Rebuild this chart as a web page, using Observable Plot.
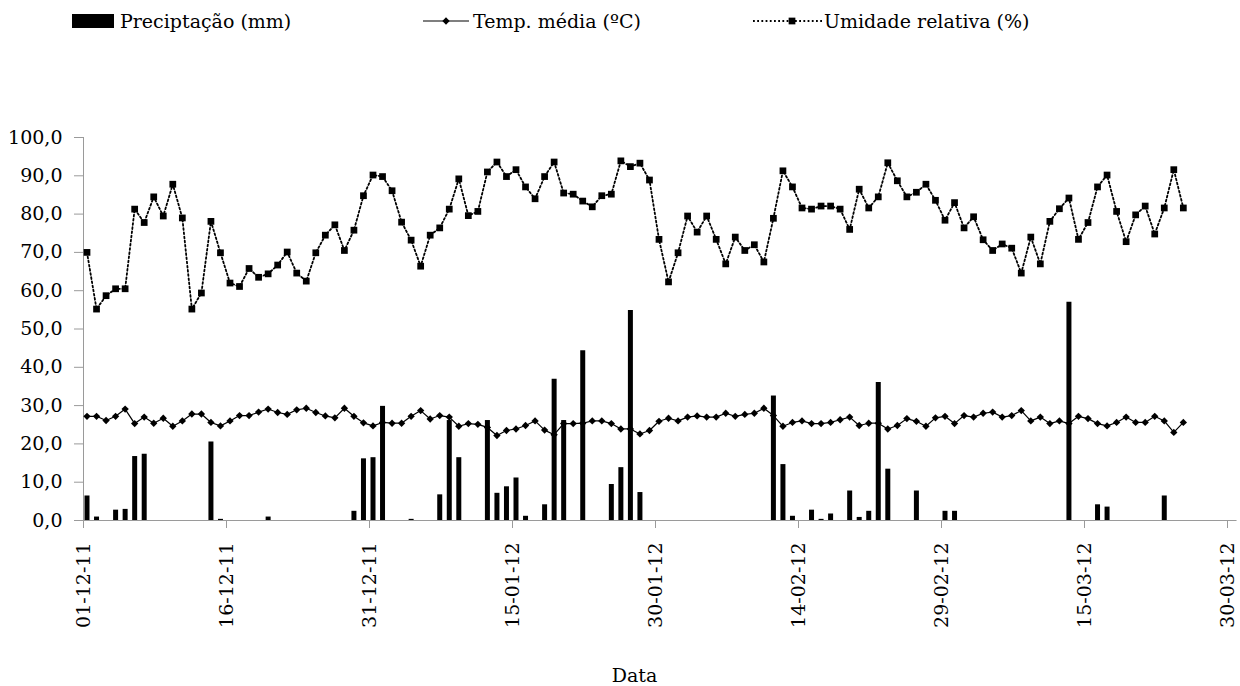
<!DOCTYPE html>
<html>
<head>
<meta charset="utf-8">
<script src="https://cdn.jsdelivr.net/npm/d3@7"></script>
<script src="https://cdn.jsdelivr.net/npm/@observablehq/plot@0.6"></script>
<style>
  html, body { margin: 0; padding: 0; background: #fff; }
  body { width: 1240px; height: 686px; overflow: hidden; font-family: "DejaVu Serif", "Liberation Serif", serif; }
  #legend { display: block; }
  #chart svg { display: block; }
  svg, svg text { font-family: "DejaVu Serif", "Liberation Serif", serif !important; }
</style>
</head>
<body>
<svg id="legend" width="1240" height="40"></svg>
<div id="chart"></div>
<script>
// ---- data ----
const seriesNames = ["Preciptação (mm)", "Temp. média (ºC)", "Umidade relativa (%)"];
const xLabel = "Data";
const firstDay = "2011-12-01";
const tickDates = ["2011-12-01","2011-12-16","2011-12-31","2012-01-15","2012-01-30","2012-02-14","2012-02-29","2012-03-15","2012-03-30"];
const yTicks = [0,10,20,30,40,50,60,70,80,90,100];

const precipitation = [
  6.4,0.9,0,2.7,2.9,16.7,17.3,0,0,0,
  0,0,0,20.5,0.3,0,0,0,0,0.9,
  0,0,0,0,0,0,0,0,2.4,16.1,
  16.4,29.8,0,0,0.3,0,0,6.7,26.1,16.4,
  0,0,26.1,7.1,8.8,11.1,1.1,0,4.1,36.9,
  26.1,0,44.3,0,0,9.4,13.8,54.8,7.3,0,
  0,0,0,0,0,0,0,0,0,0,
  0,0,32.5,14.6,1.1,0,2.7,0.3,1.7,0,
  7.7,0.8,2.4,36.0,13.4,0,0,7.7,0,0,
  2.4,2.4,0,0,0,0,0,0,0,0,
  0,0,0,57.0,0,0,4.1,3.5,0,0,
  0,0,0,6.4,0,0
];
const temperature = [
  27.2,27.2,26.1,27.2,29.1,25.3,27.0,25.4,26.7,24.6,
  26.0,27.8,27.8,25.6,24.7,26.0,27.4,27.4,28.3,29.1,
  28.2,27.7,28.9,29.3,28.2,27.3,26.8,29.3,27.2,25.5,
  24.7,25.6,25.4,25.4,27.2,28.7,26.5,27.4,27.0,24.6,
  25.3,25.1,24.3,22.2,23.5,23.9,24.8,26.0,23.6,22.4,
  25.3,25.3,25.4,26.0,26.0,25.3,23.9,23.9,22.6,23.5,
  25.9,26.7,26.0,27.0,27.3,27.0,27.0,28.0,27.2,27.7,
  28.0,29.3,27.4,24.6,25.6,26.0,25.3,25.3,25.6,26.3,
  27.0,24.8,25.4,25.4,23.9,24.8,26.6,25.9,24.6,26.8,
  27.2,25.3,27.4,27.0,28.0,28.3,27.0,27.4,28.7,26.0,
  27.0,25.3,26.0,25.3,27.2,26.6,25.3,24.7,25.6,27.0,
  25.6,25.6,27.2,26.0,23.0,25.6
];
const humidity = [
  70.0,55.2,58.7,60.5,60.5,81.3,77.8,84.5,79.5,87.8,
  79.0,55.2,59.4,78.1,69.9,62.0,61.1,65.8,63.5,64.4,
  66.7,70.1,64.6,62.5,69.9,74.5,77.2,70.5,75.8,84.8,
  90.2,89.8,86.1,77.9,73.2,66.4,74.5,76.4,81.3,89.2,
  79.6,80.7,91.0,93.6,89.8,91.6,87.1,84.0,89.8,93.6,
  85.5,85.2,83.4,81.9,84.8,85.2,93.9,92.4,93.3,88.9,
  73.4,62.3,69.9,79.5,75.3,79.5,73.4,67.0,74.0,70.5,
  72.0,67.5,78.9,91.3,87.1,81.6,81.3,82.1,82.1,81.3,
  76.0,86.5,81.6,84.5,93.4,88.7,84.5,85.7,87.8,83.6,
  78.4,83.0,76.4,79.3,73.3,70.5,72.2,71.1,64.6,74.0,
  67.0,78.1,81.4,84.2,73.4,77.8,87.1,90.2,80.7,72.8,
  79.8,82.1,74.8,81.6,91.6,81.6
];

// ---- build table ----
const start = d3.utcParse("%Y-%m-%d")(firstDay);
const rows = humidity.map((h, i) => ({
  date: d3.utcDay.offset(start, i),
  p: precipitation[i],
  t: temperature[i],
  h
}));
const ticks = tickDates.map(d3.utcParse("%Y-%m-%d"));
const axisEnd = d3.utcDay.offset(ticks[ticks.length - 1], 1);

const FONT = '"DejaVu Serif", "Liberation Serif", serif';
const FS = 19;
const AXIS = "#9a9a9a";
const DX = 3.5;

const chart = Plot.plot({
  width: 1240,
  height: 646,
  marginTop: 97,
  marginBottom: 166,
  marginLeft: 83,
  marginRight: 13,
  style: { fontFamily: FONT, fontSize: FS + "px", color: "#000", background: "#fff", overflow: "visible" },
  x: { type: "utc", domain: [ticks[0], ticks[ticks.length - 1]], axis: null },
  y: { domain: [0, 100], axis: null },
  marks: [
    Plot.ruleX([ticks[0]], { stroke: AXIS, strokeWidth: 1 }),
    Plot.ruleY([0], { x1: ticks[0], x2: axisEnd, stroke: AXIS, strokeWidth: 1 }),
    Plot.axisY({
      ticks: yTicks,
      tickFormat: d => d.toFixed(1).replace(".", ","),
      tickSize: 9,
      tickPadding: 12,
      stroke: AXIS,
      label: null,
      fontSize: FS
    }),
    Plot.axisX({
      ticks: ticks,
      tickFormat: d3.utcFormat("%d-%m-%y"),
      tickRotate: -90,
      tickSize: 8,
      tickPadding: 14,
      stroke: AXIS,
      label: null,
      fontSize: FS
    }),
    Plot.ruleX(rows.filter(d => d.p > 0), { x: "date", y1: 0, y2: "p", stroke: "#000", strokeWidth: 5, dx: DX }),
    Plot.line(rows, { x: "date", y: "t", stroke: "#000", strokeWidth: 1.2, dx: DX }),
    Plot.dot(rows, { x: "date", y: "t", symbol: "diamond2", r: 3.3, fill: "#000", stroke: "none", dx: DX }),
    Plot.line(rows, { x: "date", y: "h", stroke: "#000", strokeWidth: 1.8, strokeDasharray: "1.8 2.4", dx: DX }),
    Plot.dot(rows, { x: "date", y: "h", symbol: "square", r: 3.8, fill: "#000", stroke: "none", dx: DX }),
    Plot.text([xLabel], { frameAnchor: "bottom", lineAnchor: "bottom", dy: 161, dx: -21, fontSize: FS, fill: "#000" })
  ]
});
document.getElementById("chart").appendChild(chart);

// ---- legend (above the chart) ----
const lg = d3.select("#legend").style("font-family", FONT).style("font-size", FS + "px");
lg.append("rect").attr("x", 72).attr("y", 14).attr("width", 42).attr("height", 14).attr("fill", "#000");
lg.append("text").attr("x", 120).attr("y", 28).text(seriesNames[0]);
lg.append("line").attr("x1", 423).attr("x2", 469).attr("y1", 21).attr("y2", 21).attr("stroke", "#000").attr("stroke-width", 1.2);
lg.append("path").attr("d", d3.symbol(d3.symbolDiamond2, Math.PI * 3.3 * 3.3)()).attr("transform", "translate(446,21)").attr("fill", "#000");
lg.append("text").attr("x", 473).attr("y", 28).text(seriesNames[1]);
lg.append("line").attr("x1", 753).attr("x2", 822).attr("y1", 21).attr("y2", 21).attr("stroke", "#000").attr("stroke-width", 1.8).attr("stroke-dasharray", "1.8 2.4");
lg.append("path").attr("d", d3.symbol(d3.symbolSquare, Math.PI * 3.8 * 3.8)()).attr("transform", "translate(792,21)").attr("fill", "#000");
lg.append("text").attr("x", 824).attr("y", 28).text(seriesNames[2]);
</script>
</body>
</html>
